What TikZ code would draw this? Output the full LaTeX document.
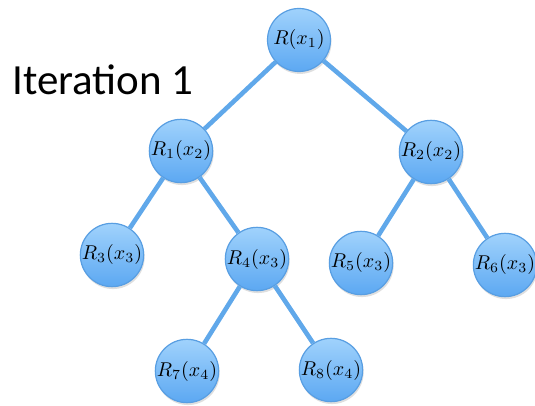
\documentclass[tikz,border=0pt]{standalone}
\usepackage{amsmath}
\usepackage{fontspec}
\newfontfamily\labelfont{Carlito}
\usetikzlibrary{shadows}
\definecolor{nodetop}{RGB}{160,210,252}
\definecolor{nodebot}{RGB}{92,168,242}
\definecolor{noderim}{RGB}{88,158,226}
\definecolor{edgeblue}{RGB}{96,168,234}

\begin{document}
\begin{tikzpicture}[x=0.5pt,y=-0.5pt,
  region/.style={circle,draw=noderim,line width=0.6pt,top color=nodetop,bottom color=nodebot,
    minimum size=31.5pt,inner sep=0pt,font=\normalsize,
    drop shadow={opacity=0.25,shadow xshift=0.5pt,shadow yshift=-1.2pt}},
  branch/.style={edgeblue,line width=2.3pt}]
\useasboundingbox (0,0) rectangle (535,406);
  \node[region] (r) at (299,40) {$R(x_1)$};
  \node[region] (r1) at (181,151) {$R_1(x_2)$}; \node[region] (r2) at (431,152) {$R_2(x_2)$};
  \node[region] (r3) at (112,255) {$R_3(x_3)$}; \node[region] (r4) at (257,259) {$R_4(x_3)$};
  \node[region] (r5) at (361,263) {$R_5(x_3)$}; \node[region] (r6) at (505,265) {$R_6(x_3)$};
  \node[region] (r7) at (187,371) {$R_7(x_4)$}; \node[region] (r8) at (331,370) {$R_8(x_4)$};
  \draw[branch] (r) -- (r1);  \draw[branch] (r) -- (r2);
  \draw[branch] (r1) -- (r3); \draw[branch] (r1) -- (r4);
  \draw[branch] (r2) -- (r5); \draw[branch] (r2) -- (r6);
  \draw[branch] (r4) -- (r7); \draw[branch] (r4) -- (r8);
  \node[anchor=base west,inner sep=0pt,font=\labelfont\fontsize{21.5}{25}\selectfont] (iter) at (12,95) {Iteration 1};
\end{tikzpicture}
\end{document}
